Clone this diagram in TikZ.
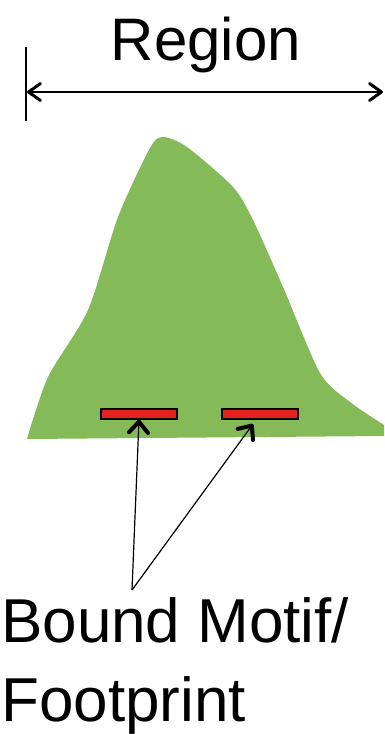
\documentclass[tikz,border=0pt]{standalone}
\usepackage{fontspec}
\setmainfont{Liberation Sans}
\usetikzlibrary{arrows.meta}
\definecolor{hill}{RGB}{132,186,88}
\definecolor{motif}{RGB}{228,34,32}
\tikzset{
  bigtext/.style={inner sep=0pt, font=\fontsize{62}{74}\selectfont},
  motifbox/.style={draw=black, line width=1.3pt, fill=motif, minimum width=76pt, minimum height=10pt, inner sep=0pt},
  pointer/.style={line width=1.2pt, -{Straight Barb[length=11pt, width=19pt, line width=4pt, round]}},
  span/.style={line width=1.3pt, {Straight Barb[length=12pt, width=17pt, line width=3pt, round]}-{Straight Barb[length=12pt, width=17pt, line width=3pt, round]}}
}
\begin{document}
\begin{tikzpicture}[x=1pt,y=-1pt]
\useasboundingbox (0,0) rectangle (384,734);
% green hill
\fill[hill] plot[smooth, tension=0.45] coordinates {(27,439) (48,377) (88,310) (118,217) (150,148) (163,137) (187,147) (233,187) (253,220) (283,287) (320,373) (350,402) (384,425)} -- (384,436) -- cycle;
% region label and span
\node[bigtext, font=\fontsize{60}{72}\selectfont, anchor=base] (region) at (206,60) {Region};
\coordinate (tickTop) at (26,47);
\coordinate (tickBot) at (26,121);
\draw[line width=1.3pt] (tickTop) -- (tickBot);
\coordinate (spanL) at (27,92);
\coordinate (spanR) at (383,92);
\draw[span] (spanL) -- (spanR);
% motifs
\node[motifbox] (m1) at (139,414) {};
\node[motifbox] (m2) at (260,414) {};
% label
\node[bigtext, anchor=base west] (lab1) at (1,642) {Bound Motif/};
\node[bigtext, anchor=base west] (lab2) at (1,721) {Footprint};
\coordinate (meet) at (132,590);
\coordinate (tip2) at (253,424);
\draw[pointer] (meet) -- (m1.south);
\draw[pointer] (meet) -- (tip2);
\end{tikzpicture}
\end{document}
